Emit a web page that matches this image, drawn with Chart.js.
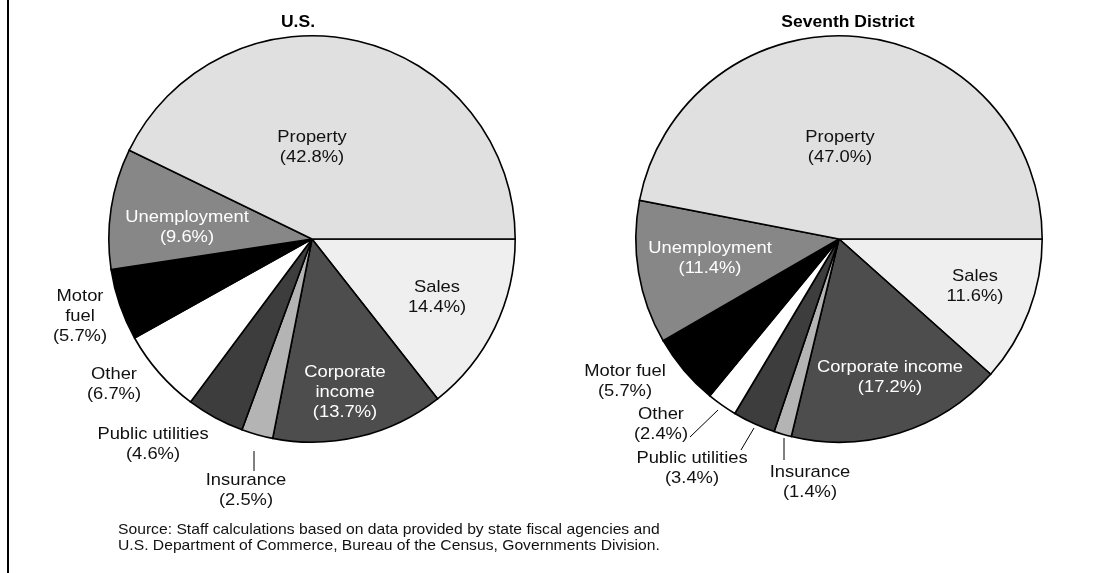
<!DOCTYPE html>
<html><head><meta charset="utf-8">
<script src="https://cdn.jsdelivr.net/npm/chart.js@4.4.1/dist/chart.umd.min.js"></script>
<style>
html,body{margin:0;padding:0;background:#fff;}
#wrap{position:relative;width:1093px;height:573px;overflow:hidden;background:#fff;}
canvas{position:absolute;left:0;top:0;}
#border{position:absolute;left:7px;top:0;width:2px;height:573px;background:#000;}
#source{position:absolute;left:118px;top:521px;font:15px "Liberation Sans",Arial,sans-serif;line-height:16px;color:#111;white-space:nowrap;transform:scaleX(1.045);transform-origin:0 0;}
</style></head><body>
<div id="wrap">
<div id="border"></div>
<canvas id="cUS" width="1093" height="573"></canvas>
<canvas id="cD" width="1093" height="573"></canvas>
<div id="source">Source: Staff calculations based on data provided by state fiscal agencies and<br>U.S. Department of Commerce, Bureau of the Census, Governments Division.</div>
</div>
<script>
// ---- data (counter-clockwise from 3 o'clock, as in the reference) ----
const categories = ["Property","Unemployment","Motor fuel","Other","Public utilities","Insurance","Corporate income","Sales"];
const usShares = [42.8, 9.6, 5.7, 6.7, 4.6, 2.5, 13.7, 14.4];
const districtShares = [47.0, 11.4, 5.7, 2.4, 3.4, 1.4, 17.2, 11.6];
const chartTitles = ["U.S.", "Seventh District"];
// how each category name is broken over lines in each pie
const usNameLines = [["Property"],["Unemployment"],["Motor","fuel"],["Other"],["Public utilities"],["Insurance"],["Corporate","income"],["Sales"]];
const districtNameLines = [["Property"],["Unemployment"],["Motor fuel"],["Other"],["Public utilities"],["Insurance"],["Corporate income"],["Sales"]];
// the reference prints the Sales share without its opening bracket
const openBracket = [true,true,true,true,true,true,true,false];

// ---- styles ----
const sliceColors = ["#e0e0e0","#878787","#000000","#ffffff","#3d3d3d","#b4b4b4","#4d4d4d","#efefef"];
const labelColors = ["#111","#fff","#111","#111","#111","#111","#fff","#111"];
// label block offsets from the pie centre
const usLabelPos = [[0,-92],[-125,-12],[-232,77],[-198,145],[-159,205],[-66,251],[33,153],[125,58.5]];
const districtLabelPos = [[1,-91.5],[-129,19.5],[-214,142.5],[-178,185],[-147,229.5],[-29,243.5],[51,138],[136,47]];
const usLeaders = [[-58,212,-58,232]];
const districtLeaders = [[-121,171,-149,198],[-85,189,-98,211],[-55,199,-55,221]];
const titleShift = [-14, 9];

const FONT = '"Liberation Sans", Arial, Helvetica, sans-serif';

function wideText(ctx, t, x, y, sx) {
  ctx.save();
  ctx.translate(x, y);
  ctx.scale(sx, 1);
  ctx.fillText(t, 0, 0);
  ctx.restore();
}

const sliceLabels = {
  id: 'sliceLabels',
  afterDatasetsDraw(chart, args, opts) {
    const ctx = chart.ctx;
    const arc = chart.getDatasetMeta(0).data[0];
    const cx = arc.x, cy = arc.y;
    ctx.save();
    ctx.textAlign = 'center';
    ctx.textBaseline = 'middle';
    // title
    ctx.font = 'bold 17px ' + FONT;
    ctx.fillStyle = '#000';
    wideText(ctx, opts.title, cx + opts.titleDx, 22, 1.03);
    // slice labels
    ctx.font = '17px ' + FONT;
    const lh = 20;
    categories.forEach((c, i) => {
      const v = opts.values[i];
      const lines = opts.names[i].concat([(openBracket[i] ? '(' : '') + v.toFixed(1) + '%)']);
      const [dx, dy] = opts.pos[i];
      ctx.fillStyle = labelColors[i];
      lines.forEach((t, k) => wideText(ctx, t, cx + dx, cy + dy + (k - (lines.length - 1) / 2) * lh, 1.08));
    });
    ctx.strokeStyle = '#000';
    ctx.lineWidth = 1;
    opts.leaders.forEach(l => {
      ctx.beginPath();
      ctx.moveTo(cx + l[0], cy + l[1]);
      ctx.lineTo(cx + l[2], cy + l[3]);
      ctx.stroke();
    });
    ctx.restore();
  }
};

function makePie(id, values, title, titleDx, names, pos, leaders, padL, padR) {
  // Chart.js draws clockwise, so feed the slices in reverse to get the counter-clockwise order
  const rev = a => a.slice().reverse();
  return new Chart(document.getElementById(id), {
    type: 'pie',
    data: {
      labels: rev(categories),
      datasets: [{
        data: rev(values),
        backgroundColor: rev(sliceColors),
        borderColor: '#000',
        borderWidth: 1.6,
        borderJoinStyle: 'miter'
      }]
    },
    options: {
      responsive: false,
      animation: false,
      rotation: 90,
      layout: { padding: { left: padL, right: padR, top: 35, bottom: 130 } },
      plugins: {
        legend: { display: false },
        tooltip: { enabled: false },
        title: { display: false },
        sliceLabels: { values, names, pos, leaders, title, titleDx }
      }
    },
    plugins: [sliceLabels]
  });
}

makePie('cUS', usShares, chartTitles[0], titleShift[0], usNameLines, usLabelPos, usLeaders, 108, 577);
makePie('cD', districtShares, chartTitles[1], titleShift[1], districtNameLines, districtLabelPos, districtLeaders, 635, 50);
</script>
</body></html>
